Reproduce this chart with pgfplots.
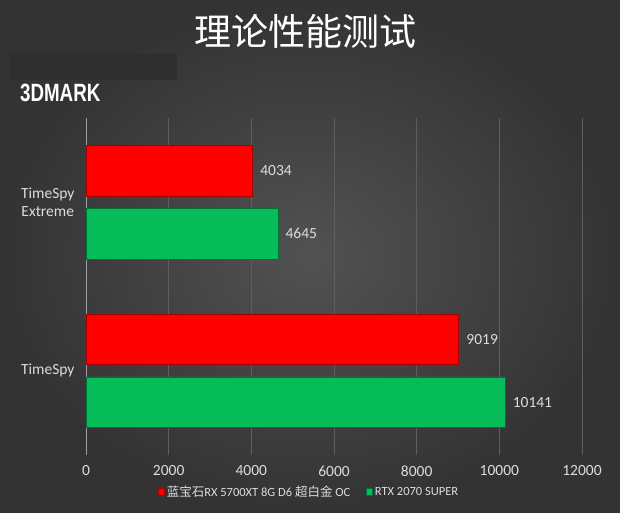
\documentclass[border=0pt]{standalone}
\usepackage{fontspec}
\setmainfont{Carlito}
\newfontfamily\cjk{Noto Sans CJK SC}
\newfontfamily\headfont{Liberation Sans}
\usepackage{pgfplots}
\pgfplotsset{compat=1.18}

\definecolor{bgin}{HTML}{525252}
\definecolor{bgout}{HTML}{333333}
\definecolor{barred}{HTML}{FF0000}
\definecolor{bargreen}{HTML}{05BC58}
\definecolor{txt}{HTML}{DCDCDC}
\definecolor{gridc}{HTML}{5E5E5E}
\definecolor{band}{HTML}{2F2F2F}

\begin{document}
\begin{tikzpicture}
\path[use as bounding box] (0,0) rectangle (620pt,512pt);
\shade[inner color=bgin, outer color=bgout] (0,0) rectangle (620pt,512pt);
\fill[band] (10pt,432pt) rectangle (177pt,459pt);
\node[text=white, font=\cjk\fontsize{37}{40}\selectfont] at (305pt,481pt) {理论性能测试};
\node[text=white, anchor=west, inner sep=0pt, xscale=0.75,
      font=\headfont\bfseries\fontsize{25}{28}\selectfont] at (20pt,419pt) {3DMARK};

\begin{axis}[
  at={(86pt,57pt)}, anchor=south west,
  scale only axis, width=496pt, height=337pt,
  xbar,
  xmin=0, xmax=12000,
  ymin=-0.5, ymax=1.5,
  y dir=reverse,
  xtick={0,2000,...,12000},
  scaled x ticks=false,
  ytick={0,1},
  yticklabels={{TimeSpy\\Extreme},{TimeSpy}},
  yticklabel style={align=center, text=txt, font=\fontsize{15.5}{18}\selectfont},
  xticklabel style={text=txt, font=\fontsize{15.5}{18}\selectfont},
  /pgf/number format/1000 sep={},
  /pgf/number format/assume math mode=true,
  major tick length=0pt,
  axis lines*=left,
  x axis line style={draw=none},
  y axis line style={draw=gray!75, line width=0.8pt},
  xmajorgrids,
  grid style={gridc, line width=0.8pt},
  xticklabel shift=7pt,
  yticklabel shift=8pt,
  bar width=0.3,
  nodes near coords,
  every node near coord/.append style={text=txt, anchor=west, xshift=4pt,
    font=\fontsize{15.5}{18}\selectfont},
  legend columns=2,
  legend style={at={(0.45,-0.11)}, anchor=center, draw=none, fill=none,
    text=txt, font=\fontsize{12.5}{14}\selectfont,
    /tikz/every even column/.append style={column sep=14pt}},
  legend image code/.code={\fill[#1] (0pt,-3pt) rectangle (6pt,4pt);},
]
\addplot[bar shift=-0.187, fill=barred, draw=barred!65!black, line width=0.6pt]
  coordinates {(4034,0) (9019,1)};
\addplot[bar shift=0.187, fill=bargreen, draw=bargreen!60!black, line width=0.6pt]
  coordinates {(4645,0) (10141,1)};
\legend{{\cjk 蓝宝石}RX 5700XT 8G D6 {\cjk 超白金} OC, RTX 2070 SUPER}
\end{axis}
\end{tikzpicture}
\end{document}
